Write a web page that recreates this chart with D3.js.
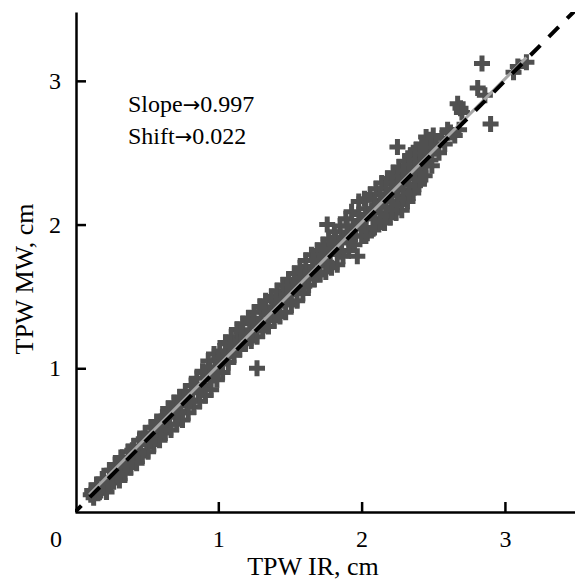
<!DOCTYPE html>
<html><head><meta charset="utf-8">
<script src="https://cdn.jsdelivr.net/npm/d3@7"></script>
<style>body{margin:0;background:#fff}svg{display:block}</style>
</head><body><svg id="c" width="575" height="580"></svg>
<script>
// ---- data ----
const tpwIR = [
0.11,0.13,0.15,0.16,0.18,0.19,0.21,0.22,0.24,0.25,0.27,0.28,0.30,0.31,0.32,0.34,0.35,0.37,0.38,0.39,
0.41,0.42,0.43,0.45,0.46,0.47,0.49,0.50,0.51,0.53,0.54,0.55,0.57,0.58,0.59,0.61,0.62,0.63,
0.65,0.66,0.67,0.69,0.70,0.71,0.73,0.74,0.75,0.77,0.78,0.79,0.81,0.82,0.83,0.85,0.86,0.87,0.89,0.90,
0.91,0.93,0.94,0.95,0.97,0.98,0.99,1.01,1.02,1.03,
1.05,1.06,1.07,1.09,1.10,1.11,1.13,1.14,1.15,1.17,1.18,1.19,1.21,1.22,1.23,1.25,1.26,1.27,1.27,
1.29,1.30,1.31,1.33,1.34,1.35,1.37,1.38,1.39,1.41,1.42,1.43,1.45,1.46,1.47,1.49,1.50,1.51,
1.53,1.54,1.55,1.57,1.58,1.59,1.61,1.62,1.63,1.65,1.66,1.67,1.69,1.70,1.71,1.73,1.74,1.75,1.76,
1.77,1.78,1.79,1.81,1.82,1.83,1.85,1.86,1.87,1.89,1.90,1.91,1.93,1.94,1.95,1.97,1.98,1.99,2.00,
2.02,2.03,2.04,2.06,2.07,2.08,2.10,2.11,2.12,2.14,2.15,2.16,2.18,2.19,2.20,2.22,2.23,2.24,2.25,
2.26,2.27,2.28,2.30,2.31,2.32,2.34,2.35,2.36,2.36,2.38,2.39,2.39,2.40,2.42,2.43,2.44,2.45,2.46,
2.47,2.48,2.48,2.49,
2.50,2.52,2.54,2.56,2.58,2.60,2.62,2.65,2.68,2.67,2.69,2.70,2.81,2.84,2.86,2.90,3.06,3.09,3.15,
0.12,0.17,0.20,0.23,0.26,0.29,0.33,0.36,0.40,0.44,0.48,0.52,0.56,0.60,0.64,
0.68,0.72,0.76,0.80,0.84,0.88,0.92,0.96,1.00,0.94,
1.04,1.08,1.12,1.16,1.20,1.24,1.28,1.32,1.36,1.40,1.44,1.48,1.52,
1.56,1.58,1.60,1.64,1.66,1.68,1.72,1.74,1.76,1.80,1.82,1.84,1.88,1.90,1.92,1.96,1.98,2.00,
2.03,2.03,2.03,2.03,2.09,2.09,2.09,2.09,2.13,2.13,2.13,2.13,2.17,2.17,2.17,2.17,
2.21,2.21,2.21,2.21,2.25,2.25,2.25,2.25,2.29,2.29,2.29,2.29,2.33,2.33,2.33,2.33,
2.37,2.37,2.37,2.37,2.41,2.41,2.41,2.41,2.45,2.45,2.45
];
const tpwMW = [
0.12,0.10,0.19,0.13,0.15,0.23,0.17,0.14,0.29,0.22,0.21,0.33,0.24,0.22,0.38,0.30,0.27,0.42,0.33,0.31,
0.46,0.38,0.34,0.50,0.42,0.39,0.55,0.47,0.42,0.59,0.50,0.47,0.63,0.54,0.50,0.66,0.58,0.55,
0.72,0.61,0.57,0.76,0.66,0.61,0.80,0.70,0.64,0.84,0.74,0.69,0.88,0.78,0.73,0.93,0.83,0.77,0.98,0.88,
0.81,1.05,0.93,0.85,1.10,1.00,0.92,1.12,1.03,0.97,
1.18,1.08,1.04,1.22,1.12,1.09,1.27,1.17,1.13,1.31,1.21,1.17,1.35,1.25,1.19,1.39,1.29,1.22,1.00,
1.43,1.33,1.26,1.47,1.37,1.29,1.50,1.41,1.33,1.54,1.44,1.36,1.58,1.48,1.39,1.62,1.52,1.44,
1.66,1.56,1.47,1.70,1.60,1.52,1.75,1.64,1.58,1.79,1.69,1.62,1.82,1.73,1.65,1.86,1.76,1.67,2.00,
1.90,1.80,1.70,1.95,1.84,1.72,1.99,1.88,1.78,2.04,1.92,1.82,2.09,1.97,1.86,1.78,2.16,2.02,1.92,
2.18,2.07,1.94,2.21,2.10,1.97,2.25,2.13,2.00,2.29,2.17,2.01,2.32,2.20,2.05,2.36,2.24,2.08,2.54,
2.40,2.28,2.10,2.44,2.32,2.16,2.48,2.37,2.22,2.50,2.52,2.40,2.36,2.28,2.56,2.45,2.34,2.61,2.58,
2.49,2.59,2.45,2.41,
2.62,2.55,2.50,2.60,2.56,2.66,2.64,2.62,2.66,2.84,2.81,2.78,2.95,3.12,2.90,2.70,3.06,3.10,3.13,
0.15,0.14,0.23,0.20,0.29,0.26,0.36,0.33,0.43,0.41,0.51,0.49,0.59,0.57,0.67,
0.71,0.69,0.79,0.77,0.88,0.85,0.97,0.95,1.06,1.01,
1.08,1.17,1.15,1.25,1.23,1.33,1.31,1.41,1.39,1.49,1.47,1.57,1.55,
1.59,1.67,1.57,1.67,1.75,1.65,1.75,1.83,1.73,1.83,1.91,1.81,1.91,1.99,1.89,1.99,2.07,1.97,
2.11,2.04,1.98,1.92,2.17,2.11,2.04,1.98,2.21,2.15,2.08,2.02,2.25,2.19,2.12,2.06,
2.29,2.23,2.16,2.10,2.33,2.27,2.20,2.14,2.37,2.31,2.24,2.18,2.41,2.35,2.28,2.22,
2.45,2.39,2.32,2.27,2.49,2.43,2.36,2.31,2.53,2.47,2.41
];
const xTicks = [1, 2, 3];
const yTicks = [1, 2, 3];
const fitSlope = 0.997, fitShift = 0.022;
const fitRange = [0.1, 3.15];
const refRange = [0, 3.5];
const annotations = [["Slope", "0.997"], ["Shift", "0.022"]];
const xTitle = "TPW IR, cm", yTitle = "TPW MW, cm";

// ---- drawing ----
const svg = d3.select("#c");
const font = "'Liberation Serif','Times New Roman',serif";
const L = 75, T = 12, W = 500, H = 500;
const x = d3.scaleLinear().domain([0, 3.489]).range([L, L + W]);
const y = d3.scaleLinear().domain([0, 3.479]).range([T + H, T]);

svg.append("clipPath").attr("id","pc").append("rect")
  .attr("x", L).attr("y", T).attr("width", W).attr("height", H);

const pts = tpwIR.map((v,i)=>[v, tpwMW[i]]);
svg.append("g").selectAll("path").data(pts).join("path")
  .attr("d","M-8,0H8M0,-8V8")
  .attr("transform", d=>`translate(${x(d[0])},${y(d[1])})`)
  .attr("stroke","#505050").attr("stroke-width",5).attr("fill","none");

const line = d3.line().x(d=>x(d[0])).y(d=>y(d[1]));
svg.append("path").attr("clip-path","url(#pc)")
  .attr("d", line(fitRange.map(v=>[v, fitSlope*v + fitShift])))
  .attr("stroke","#a6a6a6").attr("stroke-width",3).attr("fill","none");
svg.append("path").attr("clip-path","url(#pc)")
  .attr("d", line(refRange.map(v=>[v, v])))
  .attr("stroke","#000").attr("stroke-width",4).attr("fill","none")
  .attr("stroke-dasharray","14,12").attr("stroke-dashoffset",5);

const gx = svg.append("g").attr("transform",`translate(0,${y(0)})`)
  .call(d3.axisBottom(x).tickValues(xTicks).tickFormat(d3.format("d"))
    .tickSizeInner(-10).tickSizeOuter(0).tickPadding(18));
const gy = svg.append("g").attr("transform",`translate(${L+1},0)`)
  .call(d3.axisLeft(y).tickValues(yTicks).tickFormat(d3.format("d"))
    .tickSizeInner(-10).tickSizeOuter(0).tickPadding(15));
[gx, gy].forEach(g=>{
  g.select(".domain").attr("stroke","#000").attr("stroke-width",2.5);
  g.selectAll(".tick line").attr("stroke","#000").attr("stroke-width",2.5);
  g.selectAll(".tick text").attr("font-family",font).attr("font-size",24).attr("fill","#000");
});

svg.append("text").attr("x",62).attr("y",547).attr("text-anchor","end")
  .attr("font-family",font).attr("font-size",24).text("0");

svg.append("text").attr("x",313).attr("y",575).attr("text-anchor","middle")
  .attr("font-family",font).attr("font-size",26).text(xTitle);
svg.append("text").attr("transform","translate(33,279) rotate(-90)").attr("text-anchor","middle")
  .attr("font-family",font).attr("font-size",26).text(yTitle);

annotations.forEach((a,i)=>{
  const t = svg.append("text").attr("x",128).attr("y",112 + i*31.5)
    .attr("font-family",font).attr("font-size",24);
  t.append("tspan").text(a[0]);
  t.append("tspan").attr("font-family","'DejaVu Sans'").attr("font-size",21).text("\u2192");
  t.append("tspan").text(a[1]);
});
</script></body></html>
